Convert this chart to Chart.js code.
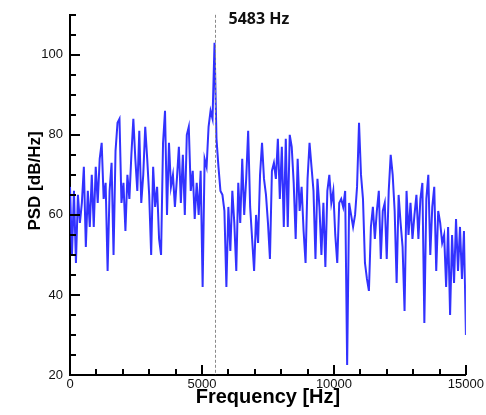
<!DOCTYPE html>
<html>
<head>
<meta charset="utf-8">
<script src="https://cdn.jsdelivr.net/npm/chart.js@4/dist/chart.umd.min.js"></script>
<style>
  html, body { margin: 0; padding: 0; background: #fff; }
  #wrap { width: 486px; height: 415px; position: relative; }
</style>
</head>
<body>
<div id="wrap"><canvas id="psdChart"></canvas></div>
<script>
// spectrum sampled every 75 Hz, 0 .. 15000 Hz
const FREQ_STEP = 75;
const psdValues = [
  67, 50, 66, 48, 65, 58, 63, 72, 52, 66,
  57, 70, 57, 72, 63, 74, 78, 64, 68, 46,
  66, 73, 50, 76, 83, 84, 63, 68, 56, 70,
  64, 75, 84, 74, 66, 81, 63, 70, 82, 74,
  65, 50, 72, 62, 67, 54, 50, 78, 86, 60,
  78, 67, 70, 62, 69, 77, 63, 75, 60, 80,
  82, 66, 71, 59, 68, 60, 71, 42, 74, 72,
  82, 86, 84, 103, 79, 72, 66, 65, 61, 42,
  62, 51, 66, 58, 46, 68, 58, 74, 60, 69,
  81, 62, 54, 46, 60, 53, 70, 78, 69, 65,
  58, 49, 71, 73, 69, 79, 64, 77, 57, 79,
  57, 80, 77, 68, 54, 74, 61, 67, 56, 48,
  69, 78, 72, 66, 49, 69, 62, 50, 63, 47,
  66, 70, 63, 66, 55, 48, 63, 64, 62, 66,
  22.5, 63, 60, 57, 60, 67, 83, 70, 64, 48,
  44, 41, 57, 62, 54, 61, 66, 49, 61, 63,
  49, 66, 75, 70, 61, 43, 65, 58, 52, 36,
  66, 55, 63, 54, 60, 65, 54, 64, 68, 33,
  64, 70, 50, 62, 67, 46, 61, 58, 53, 55,
  42, 57, 35, 55, 43, 59, 46, 57, 44, 56,
  30
];

const peakFreq = 5483;
const peakLabel = '5483 Hz';

const xMajorTicks = [0, 5000, 10000, 15000];
const yMajorTicks = [20, 40, 60, 80, 100];
const xRange = [0, 15000];
const yRange = [20, 110];

const FONT = "'Liberation Sans', Arial, sans-serif";

const points = psdValues.map( ( v, i ) => ( { x: i * FREQ_STEP, y: v } ) );

// inward tick marks, y title, marker line for the peak
const decorations = {
  id: 'decorations',
  afterDatasetsDraw( chart ) {
    const { ctx, chartArea: area, scales: { x, y } } = chart;
    ctx.save();

    // peak marker
    const px = Math.round( x.getPixelForValue( peakFreq ) ) + 0.5;
    ctx.strokeStyle = '#8a8a8a';
    ctx.lineWidth = 1;
    ctx.setLineDash( [3, 2] );
    ctx.beginPath();
    ctx.moveTo( px, area.top );
    ctx.lineTo( px, area.bottom );
    ctx.stroke();
    ctx.setLineDash( [] );

    ctx.fillStyle = '#111';
    ctx.font = "bold 16px 'Open Sans', sans-serif";
    ctx.textBaseline = 'alphabetic';
    ctx.textAlign = 'left';
    ctx.fillText( peakLabel, px + 13, 24 );

    // y axis title
    ctx.save();
    ctx.translate( 35, 181 );
    ctx.rotate( -Math.PI / 2 );
    ctx.fillStyle = '#000';
    ctx.font = 'bold 17px ' + FONT;
    ctx.textAlign = 'center';
    ctx.textBaseline = 'middle';
    ctx.fillText( 'PSD [dB/Hz]', 0, 0 );
    ctx.restore();

    ctx.strokeStyle = '#000';
    ctx.lineWidth = 2;
    // x ticks
    for ( let f = xRange[0]; f <= xRange[1]; f += 1000 ) {
      const major = xMajorTicks.includes( f );
      const xp = Math.round( x.getPixelForValue( f ) );
      ctx.beginPath();
      ctx.moveTo( xp, area.bottom );
      ctx.lineTo( xp, area.bottom - ( major ? 10 : 6 ) );
      ctx.stroke();
    }
    // y ticks
    for ( let v = yRange[0]; v <= yRange[1]; v += 5 ) {
      const major = yMajorTicks.includes( v );
      const yp = Math.round( y.getPixelForValue( v ) );
      ctx.beginPath();
      ctx.moveTo( area.left, yp );
      ctx.lineTo( area.left + ( major ? 10 : 6 ), yp );
      ctx.stroke();
    }
    ctx.restore();
  }
};

new Chart( document.getElementById( 'psdChart' ), {
  type: 'line',
  data: {
    datasets: [{
      data: points,
      borderColor: '#3232ff',
      borderWidth: 2,
      pointRadius: 0,
      tension: 0,
      fill: false,
    }],
  },
  options: {
    responsive: true,
    maintainAspectRatio: false,
    animation: false,
    layout: { padding: { top: 12, right: 19, left: 0, bottom: 0 } },
    plugins: {
      legend: { display: false },
      tooltip: { enabled: false },
    },
    scales: {
      x: {
        type: 'linear',
        min: xRange[0],
        max: xRange[1],
        afterFit( scale ) { scale.height = 40; },
        grid: { display: false, drawTicks: false },
        border: { display: true, color: '#000', width: 2 },
        ticks: {
          stepSize: 5000,
          maxRotation: 0,
          padding: 2,
          color: '#111',
          font: { family: FONT, size: 13 },
          callback: ( v ) => String( v ),
        },
        title: {
          display: true,
          text: 'Frequency [Hz]',
          color: '#000',
          font: { family: FONT, size: 20, weight: 'bold' },
          padding: { top: 0, bottom: 6 },
        },
      },
      y: {
        min: yRange[0],
        max: yRange[1],
        afterFit( scale ) { scale.width = 70; },
        grid: { display: false, drawTicks: false },
        border: { display: true, color: '#000', width: 2 },
        ticks: {
          stepSize: 20,
          includeBounds: false,
          padding: 7,
          color: '#111',
          font: { family: FONT, size: 13 },
          callback: ( v ) => String( v ),
        },
      },
    },
  },
  plugins: [decorations],
} );
</script>
</body>
</html>
